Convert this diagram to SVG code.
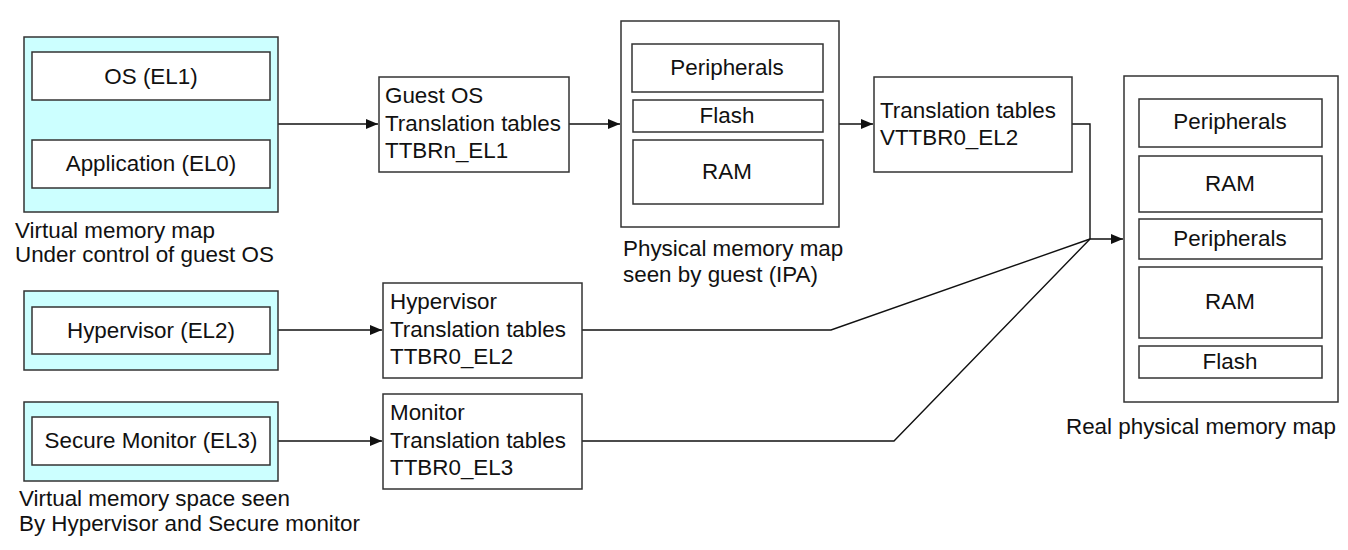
<svg xmlns="http://www.w3.org/2000/svg" width="1348" height="550" viewBox="0 0 1348 550">
<style>
.box{fill:#fff;stroke:#333;stroke-width:1.5}
.cy{fill:#ccffff;stroke:#333;stroke-width:1.5}
.ln{fill:none;stroke:#111;stroke-width:1.4}
text{font-family:"Liberation Sans",Arial,sans-serif;font-size:22.4px;fill:#111}
.c{text-anchor:middle}
</style>
<defs>
<marker id="ah" viewBox="0 0 12 10" refX="12" refY="5" markerWidth="12" markerHeight="10" markerUnits="userSpaceOnUse" orient="auto">
<path d="M0,0 L12,5 L0,10 Z" fill="#111"/>
</marker>
</defs>
<g id="connectors">
<line class="ln" x1="278" y1="124" x2="378" y2="124" marker-end="url(#ah)"/>
<line class="ln" x1="569" y1="124" x2="620" y2="124" marker-end="url(#ah)"/>
<line class="ln" x1="839" y1="124" x2="873" y2="124" marker-end="url(#ah)"/>
<polyline class="ln" points="1072,124 1090,124 1090,239 1123,239" marker-end="url(#ah)"/>
<polyline class="ln" points="582,330 831,330 1090,239"/>
<polyline class="ln" points="582,441 894,441 1090,239"/>
<line class="ln" x1="278" y1="330" x2="382" y2="330" marker-end="url(#ah)"/>
<line class="ln" x1="278" y1="441" x2="382" y2="441" marker-end="url(#ah)"/>
</g>
<g id="guest-virtual">
<rect class="cy" x="24" y="37" width="254" height="175"/>
<rect class="box" x="32" y="52" width="238" height="48"/>
<text class="c" x="151" y="84">OS (EL1)</text>
<rect class="box" x="32" y="140" width="238" height="48"/>
<text class="c" x="151" y="171">Application (EL0)</text>
<text x="15" y="238">Virtual memory map</text>
<text x="15" y="262">Under control of guest OS</text>
</g>
<g id="guest-tables">
<rect class="box" x="379" y="77" width="190" height="95"/>
<text x="385" y="103">Guest OS</text>
<text x="385" y="131">Translation tables</text>
<text x="385" y="158">TTBRn_EL1</text>
</g>
<g id="ipa-map">
<rect class="box" x="621" y="21" width="218" height="206"/>
<rect class="box" x="632" y="44" width="191" height="48"/>
<text class="c" x="727" y="75">Peripherals</text>
<rect class="box" x="633" y="100" width="190" height="32"/>
<text class="c" x="727" y="123">Flash</text>
<rect class="box" x="633" y="140" width="190" height="64"/>
<text class="c" x="727" y="179">RAM</text>
<text x="623" y="256">Physical memory map</text>
<text x="623" y="282">seen by guest (IPA)</text>
</g>
<g id="stage2-tables">
<rect class="box" x="874" y="77" width="198" height="95"/>
<text x="880" y="118">Translation tables</text>
<text x="880" y="145">VTTBR0_EL2</text>
</g>
<g id="real-map">
<rect class="box" x="1124" y="76" width="214" height="326"/>
<rect class="box" x="1139" y="99" width="183" height="48"/>
<text class="c" x="1230" y="129">Peripherals</text>
<rect class="box" x="1139" y="156" width="183" height="56"/>
<text class="c" x="1230" y="191">RAM</text>
<rect class="box" x="1139" y="219" width="183" height="40"/>
<text class="c" x="1230" y="246">Peripherals</text>
<rect class="box" x="1139" y="267" width="183" height="71"/>
<text class="c" x="1230" y="309">RAM</text>
<rect class="box" x="1139" y="346" width="183" height="32"/>
<text class="c" x="1230" y="369">Flash</text>
<text x="1066" y="434">Real physical memory map</text>
</g>
<g id="hypervisor-virtual">
<rect class="cy" x="24" y="291" width="254" height="79"/>
<rect class="box" x="32" y="307" width="238" height="47"/>
<text class="c" x="151" y="338">Hypervisor (EL2)</text>
</g>
<g id="hypervisor-tables">
<rect class="box" x="383" y="283" width="199" height="95"/>
<text x="390" y="309">Hypervisor</text>
<text x="390" y="337">Translation tables</text>
<text x="390" y="364">TTBR0_EL2</text>
</g>
<g id="monitor-virtual">
<rect class="cy" x="24" y="402" width="254" height="79"/>
<rect class="box" x="32" y="417" width="238" height="48"/>
<text class="c" x="151" y="448">Secure Monitor (EL3)</text>
<text x="19" y="506">Virtual memory space seen</text>
<text x="19" y="531">By Hypervisor and Secure monitor</text>
</g>
<g id="monitor-tables">
<rect class="box" x="383" y="394" width="199" height="95"/>
<text x="390" y="420">Monitor</text>
<text x="390" y="448">Translation tables</text>
<text x="390" y="475">TTBR0_EL3</text>
</g>
</svg>
